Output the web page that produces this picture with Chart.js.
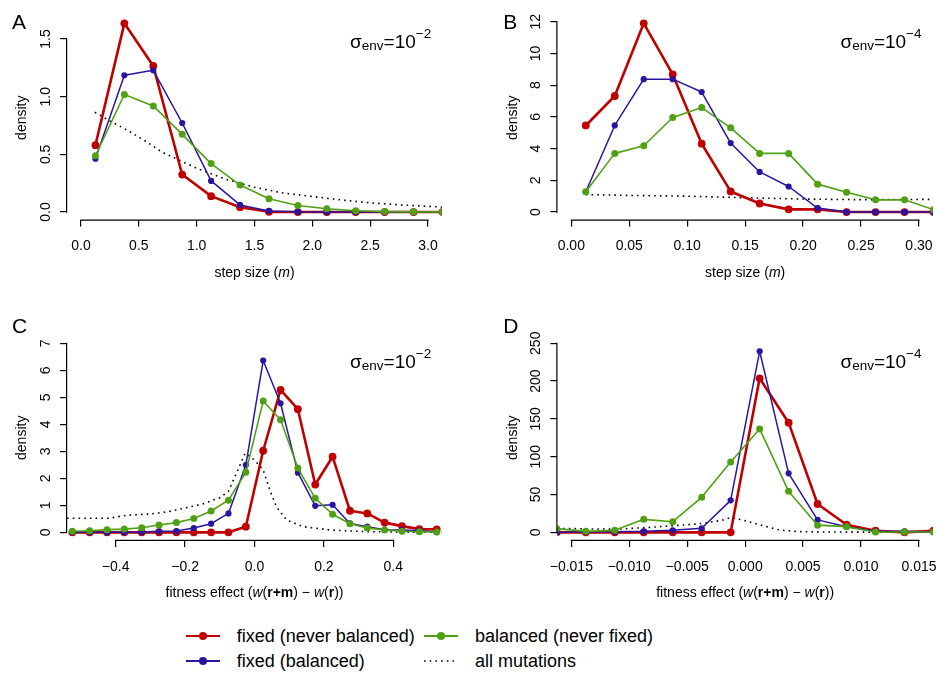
<!DOCTYPE html>
<html>
<head>
<meta charset="utf-8">
<title>Step size and fitness effect densities</title>
<script src="https://cdn.jsdelivr.net/npm/chart.js@4.4.1/dist/chart.umd.min.js"></script>
<style>
html, body { margin: 0; padding: 0; background: #fff; overflow: hidden; }
#page { position: relative; width: 937px; height: 673px; overflow: hidden;
        font-family: "Liberation Sans", Arial, Helvetica, sans-serif; color: #000; }
canvas { position: absolute; }
.legText { position: absolute; height: 24px; line-height: 24px; font-size: 18px; white-space: nowrap; }
.legMark { position: absolute; }
</style>
</head>
<body>
<div id="page">
  <canvas id="panelA" width="468" height="310" style="left:0px;top:0px"></canvas>
  <canvas id="panelB" width="469" height="310" style="left:468px;top:0px"></canvas>
  <canvas id="panelC" width="468" height="310" style="left:0px;top:310px"></canvas>
  <canvas id="panelD" width="469" height="310" style="left:468px;top:310px"></canvas>
  <div id="legend"></div>
</div>
<script>
// series names (legend order: red, blue, green, dotted)
var seriesNames = ['fixed (never balanced)', 'fixed (balanced)', 'balanced (never fixed)', 'all mutations'];

// ---- panel A: step size, sigma_env = 10^-2
var stepA = [0.125, 0.375, 0.625, 0.875, 1.125, 1.375, 1.625, 1.875, 2.125, 2.375, 2.625, 2.875, 3.125];
var fixedNeverA = [0.58, 1.636, 1.266, 0.325, 0.138, 0.042, 0.002, 0, 0, 0, 0, 0, 0];
var fixedBalA = [0.462, 1.186, 1.229, 0.772, 0.270, 0.062, 0.010, 0.002, 0, 0, 0, 0, 0];
var balNeverA = [0.488, 1.019, 0.920, 0.674, 0.420, 0.234, 0.116, 0.057, 0.029, 0.011, 0.004, 0.002, 0.002];
var allStepA = [0.12, 0.25, 0.4, 0.55, 0.7, 0.85, 1.0, 1.25, 1.5, 1.75, 2.0, 2.25, 2.5, 2.75, 3.12];
var allMutA = [0.865, 0.79, 0.71, 0.62, 0.52, 0.45, 0.38, 0.285, 0.215, 0.165, 0.135, 0.105, 0.08, 0.063, 0.043];
var xTicksA = [0, 0.5, 1, 1.5, 2, 2.5, 3];
var xTickLabelsA = ['0.0', '0.5', '1.0', '1.5', '2.0', '2.5', '3.0'];
var yTicksA = [0, 0.5, 1, 1.5];
var yTickLabelsA = ['0.0', '0.5', '1.0', '1.5'];

// ---- panel B: step size, sigma_env = 10^-4
var stepB = [0.0125, 0.0375, 0.0625, 0.0875, 0.1125, 0.1375, 0.1625, 0.1875, 0.2125, 0.2375, 0.2625, 0.2875, 0.3125];
var fixedNeverB = [5.46, 7.32, 11.9, 8.68, 4.31, 1.30, 0.54, 0.17, 0.17, 0, 0, 0, 0];
var fixedBalB = [1.28, 5.46, 8.38, 8.38, 7.57, 4.35, 2.53, 1.61, 0.25, 0, 0, 0, 0];
var balNeverB = [1.28, 3.70, 4.18, 5.96, 6.59, 5.31, 3.70, 3.70, 1.76, 1.25, 0.77, 0.77, 0.15];
var allStepB = [0.0125, 0.05, 0.1, 0.15, 0.2, 0.25, 0.3125];
var allMutB = [1.1, 1.05, 1.0, 0.9, 0.82, 0.78, 0.8];
var xTicksB = [0, 0.05, 0.1, 0.15, 0.2, 0.25, 0.3];
var xTickLabelsB = ['0.00', '0.05', '0.10', '0.15', '0.20', '0.25', '0.30'];
var yTicksB = [0, 2, 4, 6, 8, 10, 12];
var yTickLabelsB = ['0', '2', '4', '6', '8', '10', '12'];

// ---- panel C: fitness effect, sigma_env = 10^-2
var effectC = [-0.525, -0.475, -0.425, -0.375, -0.325, -0.275, -0.225, -0.175, -0.125, -0.075, -0.025,
               0.025, 0.075, 0.125, 0.175, 0.225, 0.275, 0.325, 0.375, 0.425, 0.475, 0.525];
var fixedNeverC = [0, 0, 0, 0, 0, 0, 0, 0, 0, 0, 0.21, 3.02, 5.27, 4.56, 1.77, 2.80, 0.80, 0.70, 0.36, 0.23, 0.12, 0.11];
var fixedBalC = [0, 0, 0, 0, 0.01, 0.04, 0.05, 0.16, 0.32, 0.70, 2.49, 6.36, 4.78, 2.21, 0.98, 1.02, 0.33, 0.21, 0.10, 0.09, 0.06, 0.01];
var balNeverC = [0.04, 0.06, 0.10, 0.12, 0.17, 0.27, 0.36, 0.51, 0.79, 1.19, 2.22, 4.86, 4.17, 2.38, 1.26, 0.67, 0.32, 0.16, 0.09, 0.04, 0.02, 0.01];
var allEffectC = [-0.54, -0.42, -0.37, -0.30, -0.25, -0.20, -0.15, -0.10, -0.075, -0.05, -0.027, 0.0, 0.025, 0.044, 0.063, 0.092, 0.14, 0.22, 0.31, 0.42, 0.54];
var allMutC = [0.52, 0.52, 0.63, 0.68, 0.76, 0.90, 1.05, 1.28, 1.52, 2.25, 2.93, 2.68, 2.31, 1.57, 0.95, 0.46, 0.21, 0.085, 0.03, 0.01, 0.005];
var xTicksC = [-0.4, -0.2, 0, 0.2, 0.4];
var xTickLabelsC = ['\u22120.4', '\u22120.2', '0.0', '0.2', '0.4'];
var yTicksC = [0, 1, 2, 3, 4, 5, 6, 7];
var yTickLabelsC = ['0', '1', '2', '3', '4', '5', '6', '7'];

// ---- panel D: fitness effect, sigma_env = 10^-4
var effectD = [-0.01625, -0.01375, -0.01125, -0.00875, -0.00625, -0.00375, -0.00125,
               0.00125, 0.00375, 0.00625, 0.00875, 0.01125, 0.01375, 0.01625];
var fixedNeverD = [0, 0, 0, 0, 0, 0, 0, 203.7, 145, 37.5, 10, 2.2, 0, 2.2];
var fixedBalD = [0, 0.5, 0.9, 1.3, 2.6, 5.3, 42.3, 239.4, 78, 16.5, 7.5, 1.3, 1.3, 0.4];
var balNeverD = [4.9, 1.3, 2.6, 17.2, 14.1, 46.3, 93.0, 136.7, 54.2, 9.5, 7.5, 0.4, 0.4, 0.4];
var allEffectD = [-0.0162, -0.0135, -0.011, -0.0082, -0.0053, -0.0036, -0.002, -0.0013, -0.0002, 0.0013, 0.003, 0.0047, 0.007, 0.01, 0.0162];
var allMutD = [5.3, 4.5, 4.2, 6.6, 9.7, 11.9, 16, 19.5, 16.3, 9.7, 3.0, 0.9, 0.4, 0.3, 0.3];
var xTicksD = [-0.015, -0.01, -0.005, 0, 0.005, 0.01, 0.015];
var xTickLabelsD = ['\u22120.015', '\u22120.010', '\u22120.005', '0.000', '0.005', '0.010', '0.015'];
var yTicksD = [0, 50, 100, 150, 200, 250];
var yTickLabelsD = ['0', '50', '100', '150', '200', '250'];

// ---- styles
var FONT = '"Liberation Sans", Arial, Helvetica, sans-serif';
var RED = '#c00000', BLUE = '#2a14a0', GREEN = '#50a014', DOT = '#000000';
var seriesStyles = [
  { color: RED, width: 2.6, radius: 3.9 },
  { color: BLUE, width: 1.5, radius: 3.1 },
  { color: GREEN, width: 1.6, radius: 3.5 },
  { color: DOT, width: 1.6, radius: 0, dash: [1.6, 4.1] }
];

Chart.defaults.font.family = FONT;
Chart.defaults.color = '#000';

function pts(xs, ys) {
  return xs.map(function (x, i) { return { x: x, y: ys[i] }; });
}

function ds(k, data) {
  var s = seriesStyles[k];
  return {
    label: seriesNames[k],
    data: data,
    borderColor: s.color,
    backgroundColor: s.color,
    borderWidth: s.width,
    borderDash: s.dash || [],
    borderJoinStyle: 'round',
    pointRadius: s.radius,
    pointHoverRadius: s.radius,
    pointBorderWidth: 0,
    pointBackgroundColor: s.color,
    tension: 0,
    fill: false
  };
}

var measureCtx = document.createElement('canvas').getContext('2d');
function yLabelPad(labels) {
  measureCtx.font = '14px ' + FONT;
  var w = Math.max.apply(null, labels.map(function (l) { return measureCtx.measureText(l).width; }));
  return 21 - 7 - w / 2;
}

function drawSegs(ctx, segs, x, y, center) {
  var total = 0;
  segs.forEach(function (s) {
    ctx.font = s.font;
    s.w = ctx.measureText(s.text).width;
    total += s.w;
  });
  var cx = center ? x - total / 2 : x;
  segs.forEach(function (s) {
    ctx.font = s.font;
    ctx.fillText(s.text, cx, y + (s.dy || 0));
    cx += s.w;
  });
}

// R-like axes, titles and labels
var rPlot = {
  id: 'rPlot',
  afterDraw: function (chart, args, o) {
    var ctx = chart.ctx, area = chart.chartArea;
    var xs = chart.scales.x, ys = chart.scales.y;
    ctx.save();
    ctx.strokeStyle = '#000';
    ctx.lineWidth = 1.2;
    ctx.lineCap = 'square';
    ctx.beginPath();
    ctx.moveTo(xs.getPixelForValue(xs.ticks[0].value), area.bottom + 0.5);
    ctx.lineTo(xs.getPixelForValue(xs.ticks[xs.ticks.length - 1].value), area.bottom + 0.5);
    ctx.moveTo(area.left - 0.5, ys.getPixelForValue(ys.ticks[0].value));
    ctx.lineTo(area.left - 0.5, ys.getPixelForValue(ys.ticks[ys.ticks.length - 1].value));
    ctx.stroke();

    ctx.fillStyle = '#000';
    // x axis title
    ctx.textBaseline = 'middle';
    var segs = o.xTitle.map(function (p) {
      var st = p[1] === 'i' ? 'italic ' : (p[1] === 'b' ? 'bold ' : '');
      return { text: p[0], font: st + '14px ' + FONT };
    });
    drawSegs(ctx, segs, (area.left + area.right) / 2, area.bottom + 53.2, true);

    // sigma_env label
    ctx.textBaseline = 'alphabetic';
    drawSegs(ctx, [
      { text: '\u03c3', font: '19px ' + FONT },
      { text: 'env', font: '13.5px ' + FONT, dy: 2.5 },
      { text: '=10', font: '19px ' + FONT },
      { text: o.exp, font: '13.5px ' + FONT, dy: -9.4 }
    ], area.left + 283, area.top + 31.9, false);

    // panel letter
    ctx.font = '21px ' + FONT;
    ctx.fillText(o.letter, o.letterX, o.letterY);
    ctx.restore();
  }
};

function makePanel(id, p) {
  return new Chart(document.getElementById(id), {
    type: 'line',
    data: {
      datasets: [
        ds(2, pts(p.x, p.balNever)),
        ds(1, pts(p.x, p.fixedBal)),
        ds(0, pts(p.x, p.fixedNever)),
        ds(3, pts(p.allX, p.allY))
      ]
    },
    options: {
      responsive: false,
      animation: false,
      devicePixelRatio: 1,
      events: [],
      layout: { padding: { top: p.padTop, right: p.padRight, bottom: 0, left: 0 } },
      plugins: {
        legend: { display: false },
        tooltip: { enabled: false },
        rPlot: { xTitle: p.xTitle, exp: p.exp, letter: p.letter, letterX: p.letterX, letterY: p.letterY }
      },
      scales: {
        x: {
          type: 'linear',
          min: p.xMin,
          max: p.xMax,
          afterBuildTicks: function (s) { s.ticks = p.xTicks.map(function (v) { return { value: v }; }); },
          afterFit: function (s) { s.height = p.xHeight; s.paddingLeft = 0; s.paddingRight = 0; },
          ticks: {
            autoSkip: false, minRotation: 0, maxRotation: 0, padding: 11.6,
            font: { size: 14 }, color: '#000',
            callback: function (v, i) { return p.xLabels[i]; }
          },
          grid: { display: true, drawOnChartArea: false, drawTicks: true, tickLength: 7, color: '#000', lineWidth: 1.2 },
          border: { display: false }
        },
        y: {
          type: 'linear',
          min: p.yMin,
          max: p.yMax,
          afterBuildTicks: function (s) { s.ticks = p.yTicks.map(function (v) { return { value: v }; }); },
          afterFit: function (s) { s.width = p.yWidth; s.paddingTop = 0; s.paddingBottom = 0; },
          ticks: {
            autoSkip: false, minRotation: 90, maxRotation: 90, crossAlign: 'center',
            padding: yLabelPad(p.yLabels),
            font: { size: 14 }, color: '#000',
            callback: function (v, i) { return p.yLabels[i]; }
          },
          grid: { display: true, drawOnChartArea: false, drawTicks: true, tickLength: 7, color: '#000', lineWidth: 1.2 },
          border: { display: false },
          title: { display: true, text: 'density', font: { size: 14 }, color: '#000',
                   padding: { top: p.yWidth - 44.6 - 8.4, bottom: 0 } }
        }
      }
    },
    plugins: [rPlot]
  });
}

var stepTitle = [['step size (', ''], ['m', 'i'], [')', '']];
var effectTitle = [['fitness effect (', ''], ['w', 'i'], ['(', ''], ['r+m', 'b'], [') \u2212 ', ''],
                   ['w', 'i'], ['(', ''], ['r', 'b'], ['))', '']];

makePanel('panelA', {
  x: stepA, fixedNever: fixedNeverA, fixedBal: fixedBalA, balNever: balNeverA, allX: allStepA, allY: allMutA,
  xTicks: xTicksA, xLabels: xTickLabelsA, yTicks: yTicksA, yLabels: yTickLabelsA,
  xMin: -0.12, xMax: 3.12, yMin: -0.0654, yMax: 1.7014,
  padTop: 15.8, padRight: 26.1, xHeight: 90.4, yWidth: 67.1,
  xTitle: stepTitle, exp: '\u22122', letter: 'A', letterX: 12, letterY: 29.3
});
makePanel('panelB', {
  x: stepB, fixedNever: fixedNeverB, fixedBal: fixedBalB, balNever: balNeverB, allX: allStepB, allY: allMutB,
  xTicks: xTicksB, xLabels: xTickLabelsB, yTicks: yTicksB, yLabels: yTickLabelsB,
  xMin: -0.012, xMax: 0.312, yMin: -0.476, yMax: 12.376,
  padTop: 15.8, padRight: 4.1, xHeight: 90.4, yWidth: 89.4,
  xTitle: stepTitle, exp: '\u22124', letter: 'B', letterX: 35.3, letterY: 29.3
});
makePanel('panelC', {
  x: effectC, fixedNever: fixedNeverC, fixedBal: fixedBalC, balNever: balNeverC, allX: allEffectC, allY: allMutC,
  xTicks: xTicksC, xLabels: xTickLabelsC, yTicks: yTicksC, yLabels: yTickLabelsC,
  xMin: -0.54, xMax: 0.54, yMin: -0.28, yMax: 7.28,
  padTop: 25.7, padRight: 26.1, xHeight: 80.1, yWidth: 67.1,
  xTitle: effectTitle, exp: '\u22122', letter: 'C', letterX: 12, letterY: 23.3
});
makePanel('panelD', {
  x: effectD, fixedNever: fixedNeverD, fixedBal: fixedBalD, balNever: balNeverD, allX: allEffectD, allY: allMutD,
  xTicks: xTicksD, xLabels: xTickLabelsD, yTicks: yTicksD, yLabels: yTickLabelsD,
  xMin: -0.0162, xMax: 0.0162, yMin: -10, yMax: 260,
  padTop: 25.7, padRight: 4.1, xHeight: 80.1, yWidth: 89.4,
  xTitle: effectTitle, exp: '\u22124', letter: 'D', letterX: 35.3, letterY: 23.3
});

// legend (two columns, two rows)
(function () {
  var legend = document.getElementById('legend');
  var slots = [ { k: 0, col: 0, row: 0 }, { k: 2, col: 1, row: 0 }, { k: 1, col: 0, row: 1 }, { k: 3, col: 1, row: 1 } ];
  var markX = [186, 424], textX = [236.7, 475], rowY = [636, 661];
  var svgNS = 'http://www.w3.org/2000/svg';
  slots.forEach(function (sl) {
    var s = seriesStyles[sl.k];
    var svg = document.createElementNS(svgNS, 'svg');
    svg.setAttribute('class', 'legMark');
    svg.setAttribute('width', '36');
    svg.setAttribute('height', '12');
    svg.style.left = markX[sl.col] + 'px';
    svg.style.top = (rowY[sl.row] - 6) + 'px';
    var ln = document.createElementNS(svgNS, 'line');
    ln.setAttribute('x1', '0'); ln.setAttribute('x2', '34');
    ln.setAttribute('y1', '6'); ln.setAttribute('y2', '6');
    ln.setAttribute('stroke', s.color);
    ln.setAttribute('stroke-width', s.dash ? '1.6' : '2.1');
    if (s.dash) ln.setAttribute('stroke-dasharray', '1.6 4.1');
    svg.appendChild(ln);
    if (!s.dash) {
      var c = document.createElementNS(svgNS, 'circle');
      c.setAttribute('cx', '17'); c.setAttribute('cy', '6'); c.setAttribute('r', '4');
      c.setAttribute('fill', s.color);
      svg.appendChild(c);
    }
    legend.appendChild(svg);
    var t = document.createElement('div');
    t.className = 'legText';
    t.style.left = textX[sl.col] + 'px';
    t.style.top = (rowY[sl.row] - 12) + 'px';
    t.textContent = seriesNames[sl.k];
    legend.appendChild(t);
  });
})();
</script>
</body>
</html>
